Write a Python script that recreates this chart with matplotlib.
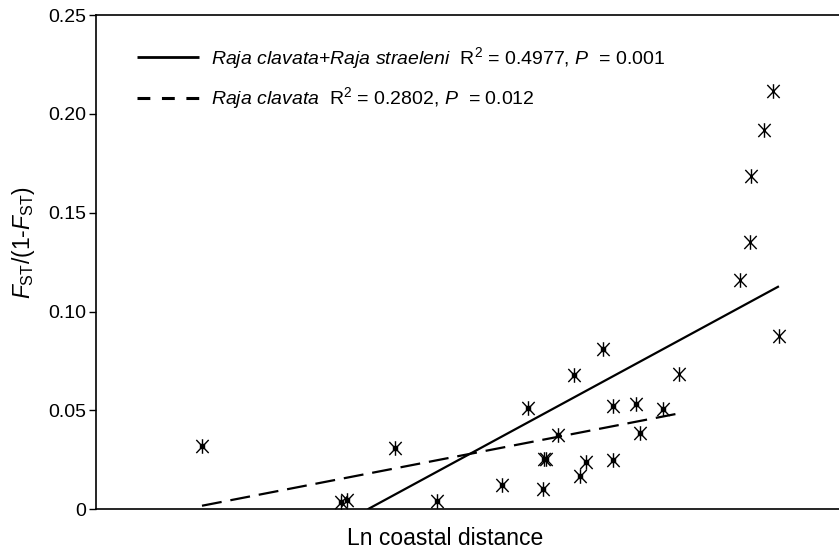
import matplotlib
matplotlib.use("Agg")
import matplotlib.pyplot as plt
from matplotlib.path import Path
from matplotlib.lines import Line2D

plt.rcParams['font.family'] = ['Liberation Sans', 'DejaVu Sans']
plt.rcParams['mathtext.fontset'] = 'custom'
plt.rcParams['mathtext.rm'] = 'Liberation Sans'
plt.rcParams['mathtext.it'] = 'Liberation Sans:italic'
plt.rcParams['mathtext.bf'] = 'Liberation Sans:bold'

# Raja clavata pairwise comparisons (ln coastal distance, Fst/(1-Fst))
clav_x = [3.856, 4.978, 5.024, 5.417, 5.751, 6.276, 6.486, 6.607, 6.614, 6.634,
          6.728, 6.862, 6.908, 6.957, 7.092, 7.172, 7.177, 7.361, 7.393, 7.581, 7.710]
clav_y = [0.0322, 0.0035, 0.0047, 0.0310, 0.0044, 0.0123, 0.0514, 0.0103, 0.0253, 0.0255,
          0.0376, 0.0678, 0.0168, 0.0241, 0.0809, 0.0522, 0.0249, 0.0534, 0.0388, 0.0509, 0.0684]

# comparisons involving Raja straeleni
strae_x = [8.200, 8.281, 8.289, 8.394, 8.464, 8.515]
strae_y = [0.1162, 0.1351, 0.1685, 0.1918, 0.2117, 0.0876]

# regression lines (end points)
fit_all_x = [5.194, 8.515]
fit_all_y = [0.0, 0.1128]
fit_clav_x = [3.856, 7.716]
fit_clav_y = [0.0018, 0.0486]

yticks = [0, 0.05, 0.10, 0.15, 0.20, 0.25]
ytick_labels = ['0', '0.05', '0.10', '0.15', '0.20', '0.25']

# Excel style asterisk marker: X with a vertical bar
asterisk = Path([(-0.85, -0.9), (0.85, 0.9), (-0.85, 0.9), (0.85, -0.9), (0, -1), (0, 1)],
                [Path.MOVETO, Path.LINETO, Path.MOVETO, Path.LINETO, Path.MOVETO, Path.LINETO])

fig = plt.figure(figsize=(8.39, 5.5), dpi=100)
ax = fig.add_axes([0.1144, 0.074, 0.8856, 0.8987])

ax.plot(fit_all_x, fit_all_y, color='black', lw=1.6, solid_capstyle='butt')
ax.plot(fit_clav_x, fit_clav_y, color='black', lw=1.6, dashes=(9, 4), dash_capstyle='butt')

all_x = clav_x + strae_x
all_y = clav_y + strae_y
ax.plot(all_x, all_y, linestyle='none', marker=asterisk, markersize=10.5,
        markeredgewidth=1.0, color='black', zorder=3)
ax.plot(clav_x[:-1], clav_y[:-1], linestyle='none', marker='s', markersize=3.2,
        color='black', zorder=4)

ax.set_xlim(3, 9)
ax.set_ylim(0, 0.25)
ax.set_yticks(yticks)
ax.set_yticklabels(ytick_labels, fontsize=14)
ax.set_xticks([])
ax.tick_params(axis='y', direction='out', length=5, width=1, pad=2)
ax.spines['right'].set_visible(False)
for s in ['left', 'bottom', 'top']:
    ax.spines[s].set_linewidth(1.2)

ax.set_xlabel('Ln coastal distance', fontsize=16.5)
ax.xaxis.set_label_coords(0.47, -0.035)
ax.set_ylabel(r'$\mathit{F}_{\mathrm{ST}}$/(1-$\mathit{F}_{\mathrm{ST}}$)', fontsize=16.5)
ax.yaxis.set_label_coords(-0.079, 0.54)

handles = [Line2D([], [], color='black', lw=2.0, solid_capstyle='butt'),
           Line2D([], [], color='black', lw=2.2, dashes=(4.2, 3.8), dash_capstyle='butt')]
labels = [r'$\mathit{Raja\ clavata{+}Raja\ straeleni}$  R$^2$ = 0.4977, $\mathit{P}$  = 0.001',
          r'$\mathit{Raja\ clavata}$  R$^2$ = 0.2802, $\mathit{P}$  = 0.012']
ax.legend(handles, labels, loc='upper left', bbox_to_anchor=(0.031, 0.975), frameon=False,
          fontsize=14, handlelength=3.2, handletextpad=0.65, labelspacing=0.75)

fig.savefig('out.png', dpi=100)
